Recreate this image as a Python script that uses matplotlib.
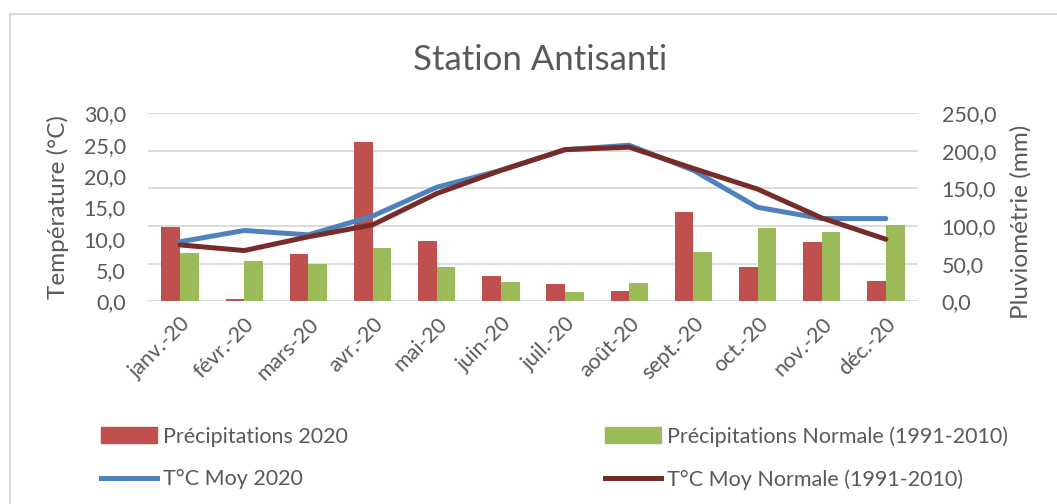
import numpy as np
import matplotlib
matplotlib.use("Agg")
import matplotlib.pyplot as plt
from matplotlib.patches import Patch
from matplotlib.lines import Line2D

# values
months = ["janv.-20", "févr.-20", "mars-20", "avr.-20", "mai-20", "juin-20",
          "juil.-20", "août-20", "sept.-20", "oct.-20", "nov.-20", "déc.-20"]
precip_2020 = [98.4, 3.0, 63.3, 211.8, 80.2, 33.2, 22.6, 13.3, 119.2, 45.2, 78.9, 26.6]
precip_normal = [63.8, 54.0, 49.6, 70.9, 46.0, 26.0, 12.0, 24.3, 65.6, 97.9, 92.2, 101.0]
temp_2020 = [9.5, 11.3, 10.6, 13.6, 18.2, 20.9, 24.2, 24.9, 20.9, 15.0, 13.2, 13.2]
temp_normal = [9.0, 8.1, 10.3, 12.2, 17.2, 20.9, 24.2, 24.6, 21.2, 17.9, 13.3, 9.9]

temp_ticks = [0, 5, 10, 15, 20, 25, 30]
precip_ticks = [0, 50, 100, 150, 200, 250]

RED = "#C0504D"
GREEN = "#9BBB59"
BLUE = "#4F81BD"
DARKRED = "#772C2A"
GREY = "#595959"
FS = 15.5

plt.rcParams['font.family'] = ['Lato', 'DejaVu Sans']

fig = plt.figure(figsize=(10.57, 5.04), dpi=100)

# chart area border (light grey, runs off right/bottom edge)
fig.patches.append(plt.Rectangle((10 / 1057, -0.1), 1.2, 1 - 14 / 504 + 0.1,
                                 transform=fig.transFigure, fill=False,
                                 edgecolor="#D9D9D9", lw=1.5))

ax = fig.add_axes([148 / 1057, 1 - 301.3 / 504, 770 / 1057, 188 / 504])
x = np.arange(len(months))
w = 0.29

# bars on the precipitation scale
ax.bar(x - w / 2, precip_2020, w, color=RED, zorder=2)
ax.bar(x + w / 2, precip_normal, w, color=GREEN, zorder=2)
ax.set_ylim(0, 250)
ax.set_xlim(-0.5, len(months) - 0.5)
ax.grid(axis="y", color="#D9D9D9", lw=1.3, zorder=0)
ax.set_axisbelow(True)

# temperature lines on the twin axis, drawn on top
ax2 = ax.twinx()
ax2.plot(x, temp_2020, color=BLUE, lw=3.6, solid_capstyle="round", zorder=3)
ax2.plot(x, temp_normal, color=DARKRED, lw=3.6, solid_capstyle="round", zorder=3)
ax2.set_ylim(0, 30)

# swap sides: temperature left, rain right
ax.yaxis.tick_right()
ax2.yaxis.tick_left()
ax.set_yticks(precip_ticks)
ax.set_yticklabels([f"{v:.1f}".replace(".", ",") for v in precip_ticks])
ax2.set_yticks(temp_ticks)
ax2.set_yticklabels([f"{v:.1f}".replace(".", ",") for v in temp_ticks])

for a in (ax, ax2):
    for s in a.spines.values():
        s.set_visible(False)
    a.tick_params(axis="both", length=0, labelsize=FS, labelcolor=GREY)
ax.tick_params(axis="y", pad=17)
ax2.tick_params(axis="y", pad=16)

ax.set_xticks(x)
ax.set_xticklabels(months, rotation=45, ha="right", va="top",
                   rotation_mode="anchor")
ax.tick_params(axis="x", pad=9)

fig.text(540 / 1057, 1 - 60 / 504, "Station Antisanti", ha="center",
         va="center", fontsize=25, color=GREY)
fig.text(58 / 1057, 1 - 207 / 504, "Température (°C)", rotation=90,
         ha="center", va="center", fontsize=17.5, color=GREY)
fig.text(1021 / 1057, 1 - 222 / 504, "Pluviométrie (mm)", rotation=90,
         ha="center", va="center", fontsize=17.5, color=GREY)

leg_kw = dict(frameon=False, fontsize=FS, labelcolor=GREY, handlelength=2.6,
              handleheight=0.8, handletextpad=0.3, labelspacing=1.05,
              loc="center left", borderaxespad=0, borderpad=0)
fig.legend([Patch(color=RED), Line2D([], [], color=BLUE, lw=3.6)],
           ["Précipitations 2020", "T°C Moy 2020"],
           bbox_to_anchor=(101 / 1057, 1 - 458 / 504), **leg_kw)
fig.legend([Patch(color=GREEN), Line2D([], [], color=DARKRED, lw=3.6)],
           ["Précipitations Normale (1991-2010)", "T°C Moy Normale (1991-2010)"],
           bbox_to_anchor=(605 / 1057, 1 - 458 / 504), **leg_kw)

fig.savefig("out.png", dpi=100)
